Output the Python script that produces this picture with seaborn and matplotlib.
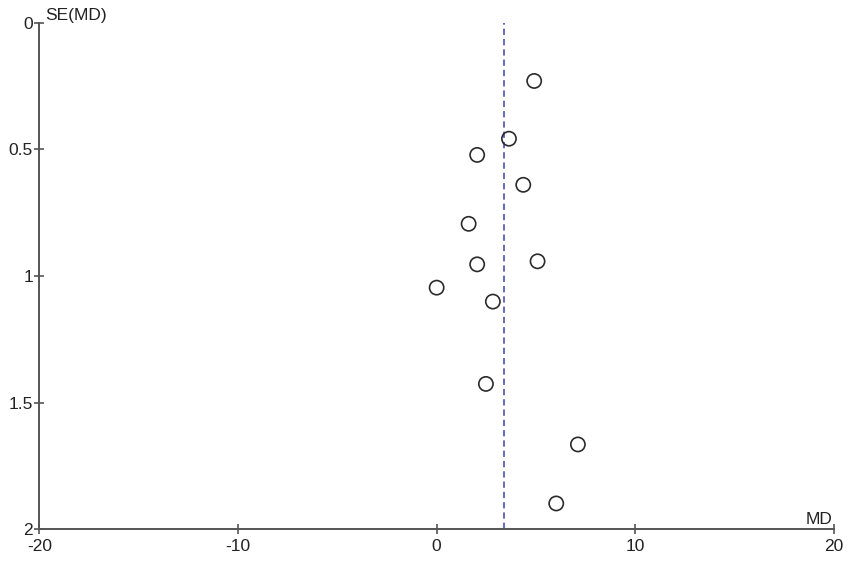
import numpy as np
import pandas as pd
import matplotlib
matplotlib.use("Agg")
import matplotlib.pyplot as plt
import seaborn as sns

# study estimates
md = [4.91, 3.64, 2.04, 4.36, 1.61, 2.04, 5.08, 0.00, 2.83, 2.48, 7.11, 6.02]
se_md = [0.230, 0.458, 0.522, 0.640, 0.794, 0.954, 0.942, 1.046, 1.101, 1.426, 1.665, 1.898]
pooled_md = 3.39

x_ticks = [-20, -10, 0, 10, 20]
y_ticks = [0, 0.5, 1, 1.5, 2]
y_tick_labels = ["0", "0.5", "1", "1.5", "2"]

df = pd.DataFrame({"MD": md, "SE": se_md})

sns.set_theme(style="white")
plt.rcParams["font.family"] = ["Liberation Sans", "DejaVu Sans"]

fig = plt.figure(figsize=(8.51, 5.62), dpi=100)
ax = fig.add_axes([0.0462, 0.0582, 0.9338, 0.9014])

# pooled estimate
ax.axvline(pooled_md, color="#5b5bd0", linestyle=(0, (3.5, 2.2)), linewidth=1.3, zorder=1)

sns.scatterplot(data=df, x="MD", y="SE", ax=ax, s=105, marker="o",
                facecolor="none", edgecolor="#2b2b2b", linewidth=1.2, zorder=3)

ax.set_xlim(-20, 20)
ax.set_ylim(2, 0)
ax.set_xticks(x_ticks)
ax.set_xticklabels([str(t) for t in x_ticks])
ax.set_yticks(y_ticks)
ax.set_yticklabels(y_tick_labels)
ax.set_xlabel("")
ax.set_ylabel("")

for side in ["top", "right"]:
    ax.spines[side].set_visible(False)
for side in ["left", "bottom"]:
    ax.spines[side].set_color("#555555")
    ax.spines[side].set_linewidth(1.4)

ax.tick_params(axis="both", direction="inout", length=7, width=1.2,
               color="#555555", labelsize=12.5, labelcolor="#222222",
               bottom=True, left=True)
ax.tick_params(axis="x", pad=3.5)
ax.tick_params(axis="y", pad=1)

# axis titles at the ends of the spines
ax.text(0.008, 1.0, "SE(MD)", transform=ax.transAxes, fontsize=12.5,
        color="#222222", ha="left", va="bottom")
ax.text(0.998, 0.004, "MD", transform=ax.transAxes, fontsize=12.5,
        color="#222222", ha="right", va="bottom")

fig.savefig("out.png", dpi=100)
